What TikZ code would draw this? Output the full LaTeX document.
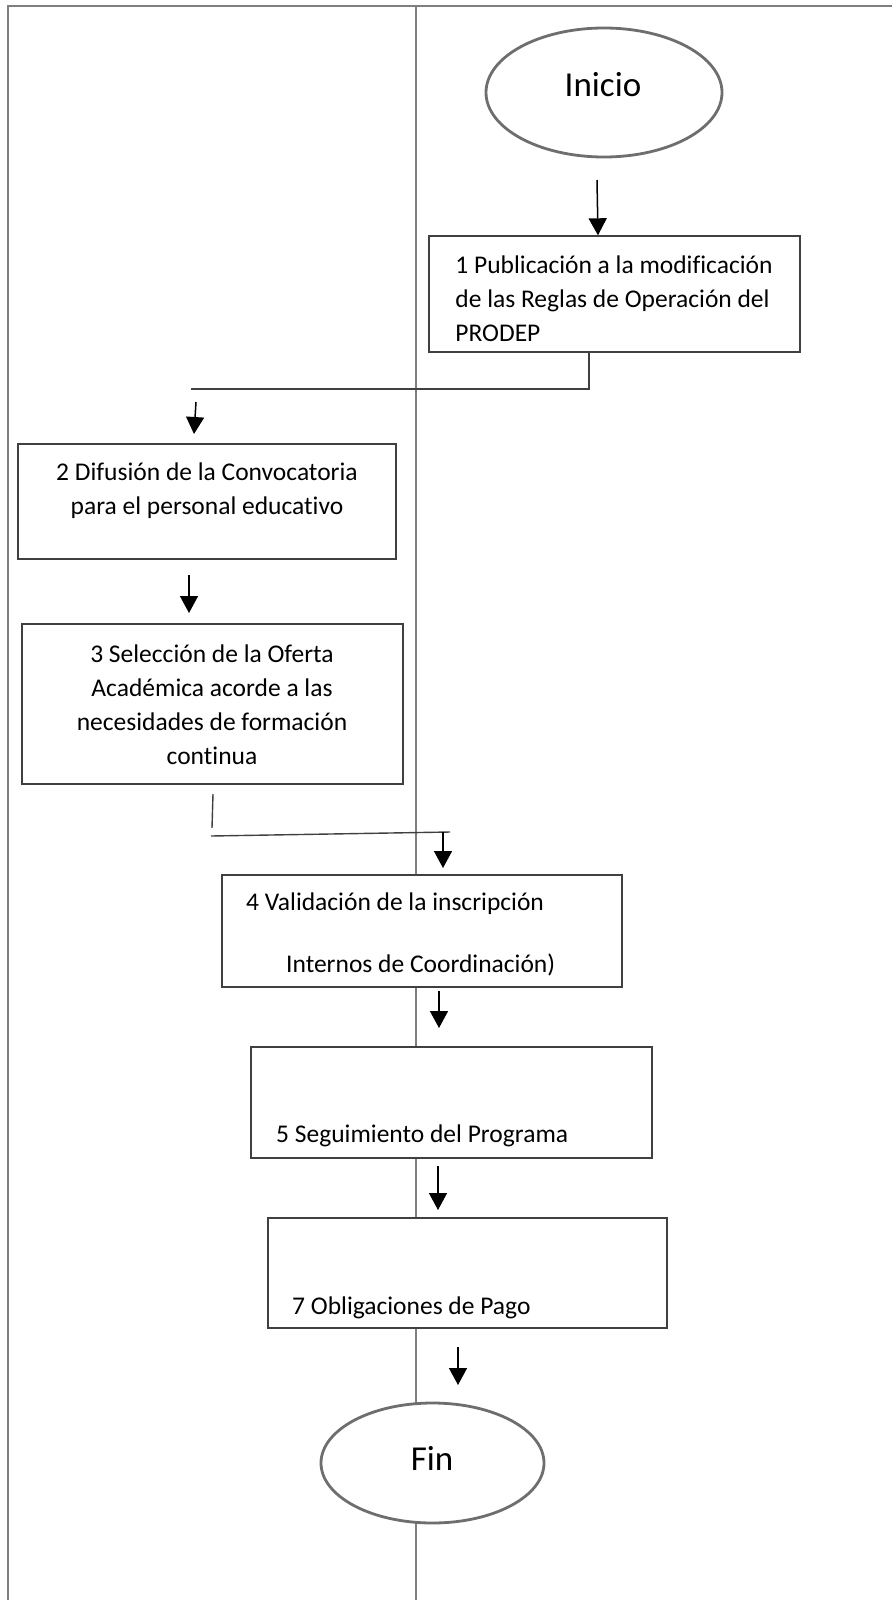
\documentclass[tikz,border=0pt]{standalone}
\usepackage{fontspec}
\setmainfont{Carlito}[Ligatures={NoCommon}]
\usepackage{xcolor}
\usetikzlibrary{arrows.meta, shapes.geometric}
\definecolor{lane}{HTML}{7F7F7F}
\definecolor{boxline}{HTML}{404040}
\definecolor{termline}{HTML}{6E6E6E}
\tikzset{
  proc box/.style={
    draw=boxline, line width=1.4pt, fill=white,
    inner sep=0pt
  },
  term/.style={
    ellipse, draw=termline, line width=2.8pt, fill=white,
    inner sep=0pt
  },
  term text/.style={
    font=\fontsize{35}{40}\selectfont, inner sep=0pt
  },
  proc text/.style={
    font=\fontsize{25.5}{34}\selectfont, inner sep=0pt
  },
  lane line/.style={draw=lane, line width=1.5pt},
  flow/.style={-{Triangle[width=18pt,length=17pt]}, line width=1.5pt, black},
  link/.style={draw=boxline, line width=1.4pt}
}
\begin{document}
\begin{tikzpicture}[x=1pt, y=-1pt]
  \useasboundingbox (0,0) rectangle (892,1600);

  % Lanes
  \draw[lane line] (892,6) -- (8,6) -- (8,1600);
  \draw[lane line] (416,6) -- (416,1600);

  % Start
  \node[term, minimum width=236pt, minimum height=129pt] (ini) at (604,92.5) {};
  \node[term text] (tini) at (603,85) {Inicio};

  % Step 1
  \node[proc box, minimum width=371pt, minimum height=116pt] (b1) at (614.5,294) {};
  \node[proc text, align=left] (t1) at (614,299)
    {1 Publicación a la modificación\\de las Reglas de Operación del\\PRODEP};

  % Step 2
  \node[proc box, minimum width=378pt, minimum height=115pt] (b2) at (207,501.5) {};
  \node[proc text, align=center] (t2) at (207,491)
    {2 Difusión de la Convocatoria\\para el personal educativo};

  % Step 3
  \node[proc box, minimum width=381pt, minimum height=160pt] (b3) at (212.5,704) {};
  \node[proc text, align=center] (t3) at (212,705)
    {3 Selección de la Oferta\\Académica acorde a las\\necesidades de formación\\continua};

  % Step 4
  \node[proc box, minimum width=400pt, minimum height=112pt] (b4) at (422,931) {};
  \node[proc text, anchor=west] (t4a) at (246,904) {4 Validación de la inscripción};
  \node[proc text, anchor=west] (t4b) at (286,965) {Internos de Coordinación)};

  % Step 5
  \node[proc box, minimum width=401pt, minimum height=111pt] (b5) at (451.5,1102.5) {};
  \node[proc text, anchor=west] (t5) at (276,1136) {5 Seguimiento del Programa};

  % Step 7
  \node[proc box, minimum width=399pt, minimum height=110pt] (b7) at (467.5,1273) {};
  \node[proc text, anchor=west] (t7) at (292,1308) {7 Obligaciones de Pago};

  % End
  \node[term, minimum width=223pt, minimum height=120pt] (fin) at (432.5,1463) {};
  \node[term text] (tfin) at (432,1458) {Fin};

  % Arrows
  \coordinate (a0) at (597,180);
  \draw[flow] (a0) -- (b1.north -| 598,0);

  \coordinate (j1) at (589,389);
  \coordinate (j1e) at (191,389);
  \draw[link] (b1.south -| j1) -- (j1) -- (j1e);
  \coordinate (a1s) at (196,402);
  \coordinate (a1e) at (194,434);
  \draw[flow] (a1s) -- (a1e);

  \coordinate (a2s) at (189,575);
  \coordinate (a2e) at (189,613);
  \draw[flow] (a2s) -- (a2e);

  \coordinate (k1) at (213,794);
  \coordinate (k2) at (212,828);
  \draw[link] (k1) -- (k2);
  \coordinate (k3) at (211,836);
  \coordinate (k4) at (450,832);
  \draw[link] (k3) -- (k4);
  \coordinate (a3s) at (443,832);
  \coordinate (a3e) at (443,868);
  \draw[flow] (a3s) -- (a3e);

  \coordinate (a4s) at (439,991);
  \coordinate (a4e) at (439,1028);
  \draw[flow] (a4s) -- (a4e);

  \coordinate (a5s) at (438,1166);
  \coordinate (a5e) at (438,1210);
  \draw[flow] (a5s) -- (a5e);

  \coordinate (a7s) at (458,1347);
  \coordinate (a7e) at (458,1385);
  \draw[flow] (a7s) -- (a7e);
\end{tikzpicture}
\end{document}
